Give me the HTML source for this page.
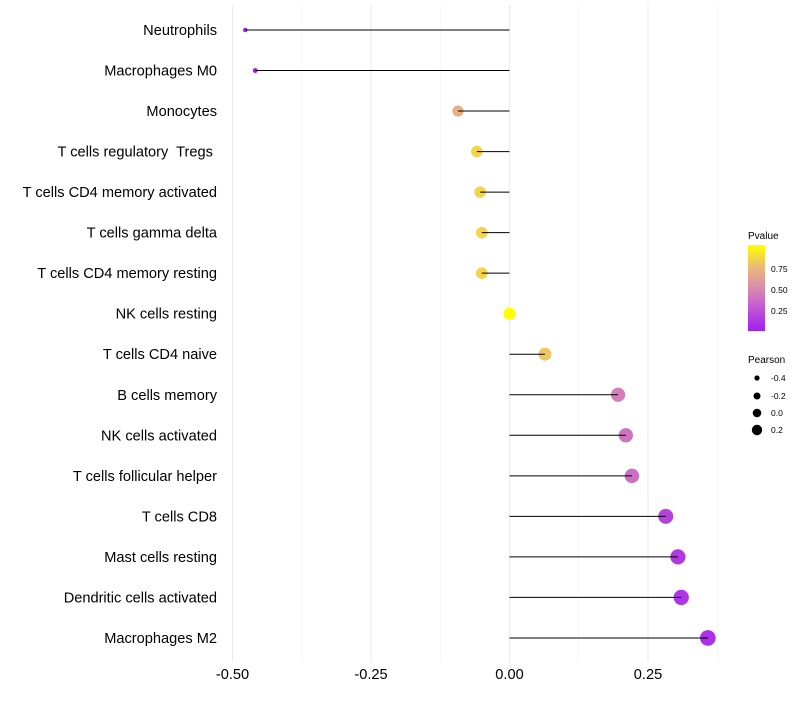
<!DOCTYPE html>
<html><head><meta charset="utf-8"><style>
body{margin:0;background:#fff;font-family:"Liberation Sans",sans-serif;}
</style></head><body>
<svg id="chart" width="800" height="700" xmlns="http://www.w3.org/2000/svg" style="font-family:'Liberation Sans',sans-serif">
<defs><linearGradient id="pg" x1="0" y1="1" x2="0" y2="0">
<stop offset="0" stop-color="#a020f0"/><stop offset="0.24" stop-color="#c050d8"/><stop offset="0.49" stop-color="#d88aaf"/><stop offset="0.74" stop-color="#ecb878"/><stop offset="1" stop-color="#ffff00"/></linearGradient></defs>
<g id="grid"></g>
<g id="marks"></g>
<g id="ylab"></g>
<g id="xlab"></g>
<g>
<text x="748" y="239" font-size="10">Pvalue</text>
<rect x="748" y="245" width="17" height="86" fill="url(#pg)"/>
<text x="771" y="272" font-size="8.5">0.75</text>
<text x="771" y="293" font-size="8.5">0.50</text>
<text x="771" y="314" font-size="8.5">0.25</text>
</g>
<g>
<text x="748" y="363" font-size="10">Pearson</text>
<circle cx="757" cy="378" r="2.6"/><text x="771" y="381" font-size="8.5">-0.4</text>
<circle cx="757" cy="396" r="3.5"/><text x="771" y="399" font-size="8.5">-0.2</text>
<circle cx="757" cy="413" r="4.3"/><text x="771" y="416" font-size="8.5">0.0</text>
<circle cx="757" cy="430" r="5.2"/><text x="771" y="433" font-size="8.5">0.2</text>
</g>
</svg>
<script>
const categories=["Neutrophils","Macrophages M0","Monocytes","T cells regulatory  Tregs ","T cells CD4 memory activated","T cells gamma delta","T cells CD4 memory resting","NK cells resting","T cells CD4 naive","B cells memory","NK cells activated","T cells follicular helper","T cells CD8","Mast cells resting","Dendritic cells activated","Macrophages M2"];
const pearson=[-0.477,-0.459,-0.093,-0.059,-0.053,-0.050,-0.050,0.0,0.064,0.196,0.210,0.221,0.282,0.304,0.310,0.358];
const pvalue=[0.05,0.05,0.7,0.85,0.85,0.85,0.85,1.0,0.8,0.45,0.4,0.38,0.18,0.14,0.12,0.1];
const xTicks=[-0.5,-0.25,0,0.25];
const xTickLabels=["-0.50","-0.25","0.00","0.25"];
const NS="http://www.w3.org/2000/svg";
const x=v=>509.5+v*554;
const y=i=>30+i*40.53;
const r=p=>1.12*Math.sqrt(Math.max(2,29.7+53.9*p));
const stops=[[0.02,[160,32,240]],[0.25,[192,80,216]],[0.5,[216,138,175]],[0.75,[236,184,120]],[1,[255,255,0]]];
function col(p){p=Math.max(0.02,Math.min(1,p));for(let k=0;k<stops.length-1;k++){const a=stops[k],b=stops[k+1];if(p<=b[0]){const t=(p-a[0])/(b[0]-a[0]);return "rgb("+a[1].map((c,j)=>Math.round(c+(b[1][j]-c)*t)).join(",")+")";}}return "rgb(255,255,0)";}
function mk(t,at,parent){const e=document.createElementNS(NS,t);for(const k in at)e.setAttribute(k,at[k]);parent.appendChild(e);return e;}
const grid=document.getElementById('grid'),marks=document.getElementById('marks'),yl=document.getElementById('ylab'),xl=document.getElementById('xlab');
[-0.375,-0.125,0.125,0.375].forEach(v=>{const l=mk('line',{x1:x(v),x2:x(v),y1:5,y2:662,stroke:'#f3f3f3','stroke-width':0.6},grid);

});
xTicks.forEach((v,i)=>{const l=mk('line',{x1:x(v),x2:x(v),y1:5,y2:662,stroke:'#ebebeb','stroke-width':1.1},grid);


const t=mk('text',{x:x(v),y:679,'font-size':14.6,'text-anchor':'middle',fill:'#000'},xl);t.textContent=xTickLabels[i];

});
categories.forEach((c,i)=>{
const t=mk('text',{x:217,y:y(i)+5,'font-size':14.6,'text-anchor':'end',fill:'#000',style:'white-space:pre'},yl);t.textContent=c;


const p=mk('circle',{cx:x(pearson[i]),cy:y(i),r:r(pearson[i]),fill:col(pvalue[i])},marks);


const s=mk('line',{x1:x(0),x2:x(pearson[i]),y1:y(i),y2:y(i),stroke:'#000','stroke-width':1},marks);


});
</script>
</body></html>
